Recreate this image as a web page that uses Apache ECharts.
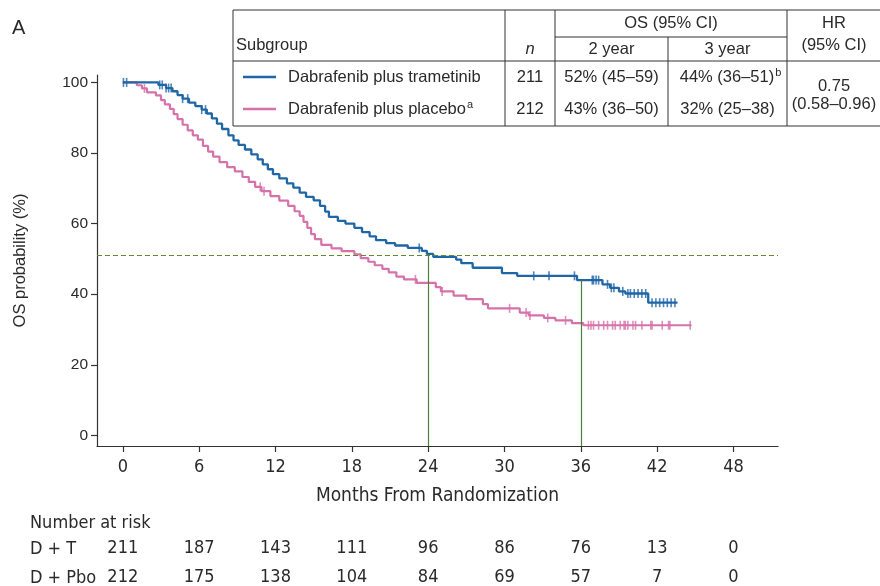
<!DOCTYPE html>
<html>
<head>
<meta charset="utf-8">
<script src="https://cdn.jsdelivr.net/npm/echarts@6/dist/echarts.min.js"></script>
<style>
  html, body { margin: 0; padding: 0; background: #fff; }
  #chart { width: 880px; height: 586px; }
</style>
</head>
<body>
<div id="chart"></div>
<script>
// Kaplan-Meier overall survival, dabrafenib plus trametinib vs dabrafenib plus placebo

const xTicks = [0, 6, 12, 18, 24, 30, 36, 42, 48];
const yTicks = [0, 20, 40, 60, 80, 100];

// D + T: step times (months) and survival (%) after each step; last entry = end of follow-up
const dtTimes = [0, 2.8, 3.4, 3.9, 4.3, 4.7, 5.2, 5.7, 6.2, 6.6, 7.0, 7.4, 7.8, 8.3, 8.7, 9.1, 9.6, 10.1, 10.6, 11.0, 11.4, 11.8, 12.3, 12.9, 13.4, 13.9, 14.4, 15.0, 15.5, 15.9, 16.2, 16.9, 17.5, 18.2, 18.8, 19.4, 19.9, 20.7, 21.4, 22.4, 23.5, 23.9, 24.4, 26.2, 26.6, 27.5, 29.8, 31.0, 35.7, 37.7, 38.3, 39.0, 39.5, 41.3, 43.6];
const dtSurv = [100, 99.3, 98.4, 97.5, 96.4, 95.4, 94.3, 93.3, 92.3, 91.2, 89.8, 88.3, 86.8, 85.0, 83.6, 82.3, 81.0, 79.6, 78.2, 76.8, 75.4, 74.0, 72.8, 71.4, 70.2, 68.8, 67.6, 66.6, 65.0, 63.4, 61.9, 60.8, 60.0, 58.8, 57.6, 56.4, 55.3, 54.5, 53.8, 53.1, 52.3, 51.4, 50.6, 49.8, 48.8, 47.5, 46.0, 45.2, 44.0, 42.8, 41.8, 40.8, 40.2, 37.6, 37.6];
const dtCensor = [0.05, 0.3, 2.9, 3.1, 3.4, 3.6, 3.8, 4.7, 5.1, 6.2, 6.5, 23.3, 32.3, 33.5, 35.5, 36.9, 37.0, 37.2, 37.4, 38.1, 38.4, 38.6, 39.3, 39.7, 39.9, 40.2, 40.5, 40.8, 41.1, 41.6, 41.9, 42.2, 42.5, 42.8, 43.1, 43.4];

// D + Pbo
const pboTimes = [0, 1.1, 1.5, 1.9, 2.6, 3.0, 3.3, 3.7, 4.0, 4.3, 4.7, 5.1, 5.5, 5.9, 6.3, 6.7, 7.1, 7.6, 8.2, 8.8, 9.4, 9.9, 10.4, 10.9, 11.6, 12.3, 13.0, 13.5, 13.9, 14.2, 14.5, 14.8, 15.1, 15.6, 16.4, 17.2, 18.2, 18.7, 19.3, 19.8, 20.4, 20.9, 21.5, 22.1, 23.1, 24.6, 25.0, 26.0, 27.0, 28.3, 28.7, 31.2, 31.9, 33.1, 34.0, 35.3, 36.2, 44.7];
const pboSurv = [100, 99.2, 98.3, 97.2, 96.3, 95.0, 93.8, 92.5, 91.0, 89.6, 88.0, 86.4, 85.0, 83.8, 82.0, 80.4, 79.0, 77.4, 76.0, 74.8, 73.2, 71.8, 70.4, 69.2, 67.8, 66.5, 65.0, 63.5, 62.2, 60.5, 58.8, 57.0, 55.6, 54.0, 53.0, 52.2, 51.3, 50.2, 49.2, 48.2, 47.2, 46.2, 45.0, 44.2, 43.2, 42.0, 40.8, 39.6, 38.6, 37.2, 36.0, 34.8, 34.0, 33.3, 32.6, 31.8, 31.2, 31.2];
const pboCensor = [1.7, 10.8, 11.1, 23.0, 25.1, 30.4, 31.7, 32.0, 33.4, 34.8, 36.6, 36.8, 37.0, 37.4, 37.8, 38.1, 38.5, 38.7, 39.1, 39.4, 39.5, 39.7, 40.1, 40.3, 40.8, 41.5, 41.6, 42.4, 42.9, 43.0, 44.6];

// Number at risk at each x tick
const atRiskDT = [211, 187, 143, 111, 96, 86, 76, 13, 0];
const atRiskPbo = [212, 175, 138, 104, 84, 69, 57, 7, 0];

// Reference lines
const medianLine = 51;
const landmarks = [24, 36];

// Legend table text
const groupNames = ['Dabrafenib plus trametinib', 'Dabrafenib plus placebo'];
const groupNotes = ['', 'a'];
const groupN = ['211', '212'];
const os2yr = ['52% (45\u201359)', '43% (36\u201350)'];
const os3yr = ['44% (36\u201351)', '32% (25\u201338)'];
const os3yrNotes = ['b', ''];
const hrText = ['0.75', '(0.58\u20130.96)'];

const BLUE = '#1f66a6';
const PINK = '#d672aa';
const GREEN = '#4f7d3e';
const OLIVE = '#5f8a30';
const TXT = '#2a2a2a';
const FONT = '"Liberation Sans", Arial, sans-serif';
const NARROW = '"Liberation Sans Narrow", "DejaVu Sans Condensed", "Liberation Sans", sans-serif';
const TFS = 16.5;

const X_MIN = -2.03, X_MAX = 51.5, Y_MIN = -3, Y_MAX = 102.1;

function survAt(times, surv, t) {
  let s = surv[0];
  for (let i = 0; i < times.length; i++) {
    if (times[i] <= t) s = surv[i]; else break;
  }
  return s;
}
const pairs = (ts, ss) => ts.map((t, i) => [t, ss[i]]);
const censorPts = (cs, ts, ss) => cs.map(t => [t, survAt(ts, ss, t)]);

const chart = echarts.init(document.getElementById('chart'), null, { renderer: 'canvas' });

function riskAxis(values, offset) {
  return {
    type: 'value', gridIndex: 0, position: 'bottom', offset: offset,
    min: X_MIN, max: X_MAX,
    axisLine: { show: false, onZero: false }, axisTick: { show: false }, splitLine: { show: false },
    axisLabel: {
      customValues: xTicks, margin: 0,
      fontFamily: NARROW, fontSize: 18, color: TXT,
      formatter: v => String(values[Math.round(v / 6)])
    }
  };
}

// Legend table geometry
const T = { l: 233, r: 895, t: 10, b: 126, hMid: 37, hBot: 61, c1: 505, c2: 555, c3: 668, c4: 787 };
const rowY = [77, 109];
const lineStyleT = { stroke: '#333', lineWidth: 1 };
function seg(x1, y1, x2, y2) {
  return { type: 'line', shape: { x1, y1, x2, y2 }, style: lineStyleT, z: 101 };
}
function txt(x, y, text, align, extra) {
  return {
    type: 'text', x, y, z: 102,
    style: Object.assign({ text, align: align || 'center', verticalAlign: 'middle', fontFamily: FONT, fontSize: TFS, fill: TXT }, extra || {})
  };
}
function supTxt(x, y, main, sup, align) {
  return {
    type: 'text', x, y, z: 102,
    style: {
      text: sup ? '{m|' + main + '}{s|' + sup + '}' : '{m|' + main + '}',
      align: align || 'center', verticalAlign: 'middle',
      rich: {
        m: { fontFamily: FONT, fontSize: TFS, fill: TXT, color: TXT, lineHeight: 20 },
        s: { fontFamily: FONT, fontSize: 11, fill: TXT, color: TXT, verticalAlign: 'top', lineHeight: 20, padding: [0, 0, 7, 1] }
      }
    }
  };
}

const tableGraphics = [
  { type: 'rect', shape: { x: T.l, y: T.t, width: T.r - T.l, height: T.b - T.t }, style: { fill: '#fff', stroke: '#333', lineWidth: 1 }, z: 100 },
  seg(T.l, T.hBot, T.r, T.hBot),
  seg(T.c1, T.t, T.c1, T.b),
  seg(T.c2, T.t, T.c2, T.b),
  seg(T.c4, T.t, T.c4, T.b),
  seg(T.c2, T.hMid, T.c4, T.hMid),
  seg(T.c3, T.hMid, T.c3, T.b),
  txt(T.l + 3, 45, 'Subgroup', 'left'),
  txt((T.c1 + T.c2) / 2, 49, 'n', 'center', { fontStyle: 'italic' }),
  txt((T.c2 + T.c4) / 2, 23, 'OS (95% CI)'),
  txt((T.c2 + T.c3) / 2, 49, '2 year'),
  txt((T.c3 + T.c4) / 2, 49, '3 year'),
  txt(834, 23, 'HR'),
  txt(834, 45, '(95% CI)'),
  txt(834, 86, hrText[0]),
  txt(834, 104, hrText[1])
];
[BLUE, PINK].forEach((c, i) => {
  const y = rowY[i];
  tableGraphics.push({ type: 'line', shape: { x1: 243, y1: y, x2: 276, y2: y }, style: { stroke: c, lineWidth: 2.5 }, z: 102 });
  tableGraphics.push(supTxt(288, y, groupNames[i], groupNotes[i], 'left'));
  tableGraphics.push(txt((T.c1 + T.c2) / 2, y, groupN[i]));
  tableGraphics.push(txt((T.c2 + T.c3) / 2, y, os2yr[i]));
  tableGraphics.push(supTxt((T.c3 + T.c4) / 2 + (os3yrNotes[i] ? 3 : 0), y, os3yr[i], os3yrNotes[i]));
});

const option = {
  animation: false,
  backgroundColor: '#fff',
  grid: { left: 97, right: 102, top: 75, bottom: 140, containLabel: false },
  xAxis: [
    {
      type: 'value', min: X_MIN, max: X_MAX,
      name: 'Months From Randomization', nameLocation: 'middle', nameGap: 41,
      nameTextStyle: { fontFamily: NARROW, fontSize: 19, color: TXT },
      axisLine: { show: true, onZero: false, lineStyle: { color: '#333', width: 1.2 } },
      axisTick: { show: true, customValues: xTicks, length: 6, lineStyle: { color: '#333', width: 1.2 } },
      axisLabel: { customValues: xTicks, margin: 12, fontFamily: NARROW, fontSize: 18, color: TXT },
      splitLine: { show: false }
    },
    riskAxis(atRiskDT, 93),
    riskAxis(atRiskPbo, 122)
  ],
  yAxis: {
    type: 'value', min: Y_MIN, max: Y_MAX,
    name: 'OS probability (%)', nameLocation: 'middle', nameGap: 68, nameRotate: 90,
    nameTextStyle: { fontFamily: FONT, fontSize: 16.5, color: TXT },
    axisLine: { show: true, onZero: false, lineStyle: { color: '#333', width: 1.2 } },
    axisTick: { show: true, customValues: yTicks, length: 6, lineStyle: { color: '#333', width: 1.2 } },
    axisLabel: { customValues: yTicks, margin: 9, fontFamily: FONT, fontSize: 15.5, color: TXT },
    splitLine: { show: false }
  },
  series: [
    {
      name: 'D + Pbo', type: 'line', step: 'end', showSymbol: false, symbol: 'none',
      data: pairs(pboTimes, pboSurv),
      lineStyle: { color: PINK, width: 2.2 }, z: 3,
      markLine: {
        silent: true, symbol: 'none', label: { show: false },
        lineStyle: { color: OLIVE, type: [5, 3], width: 1.1 },
        data: [{ yAxis: medianLine }]
      }
    },
    {
      name: 'D + T', type: 'line', step: 'end', showSymbol: false, symbol: 'none',
      data: pairs(dtTimes, dtSurv),
      lineStyle: { color: BLUE, width: 2.3 }, z: 4,
      markLine: {
        silent: true, symbol: 'none', label: { show: false },
        lineStyle: { color: GREEN, type: 'solid', width: 1.2 },
        data: landmarks.map(t => [{ coord: [t, Y_MIN] }, { coord: [t, survAt(dtTimes, dtSurv, t)] }])
      }
    },
    {
      name: 'D + Pbo censored', type: 'scatter', symbol: 'rect', symbolSize: [1.6, 9],
      data: censorPts(pboCensor, pboTimes, pboSurv),
      itemStyle: { color: PINK }, z: 5
    },
    {
      name: 'D + T censored', type: 'scatter', symbol: 'rect', symbolSize: [1.6, 9],
      data: censorPts(dtCensor, dtTimes, dtSurv),
      itemStyle: { color: BLUE }, z: 6
    }
  ],
  graphic: [
    { type: 'text', x: 12, y: 28, style: { text: 'A', fontFamily: FONT, fontSize: 20, fill: TXT, verticalAlign: 'middle' } },
    { type: 'text', x: 30, y: 523, style: { text: 'Number at risk', fontFamily: NARROW, fontSize: 18, fill: TXT, verticalAlign: 'middle' } },
    { type: 'text', x: 30, y: 549, style: { text: 'D + T', fontFamily: NARROW, fontSize: 18, fill: TXT, verticalAlign: 'middle' } },
    { type: 'text', x: 30, y: 578, style: { text: 'D + Pbo', fontFamily: NARROW, fontSize: 18, fill: TXT, verticalAlign: 'middle' } }
  ].concat(tableGraphics)
};

chart.setOption(option);
</script>
</body>
</html>
